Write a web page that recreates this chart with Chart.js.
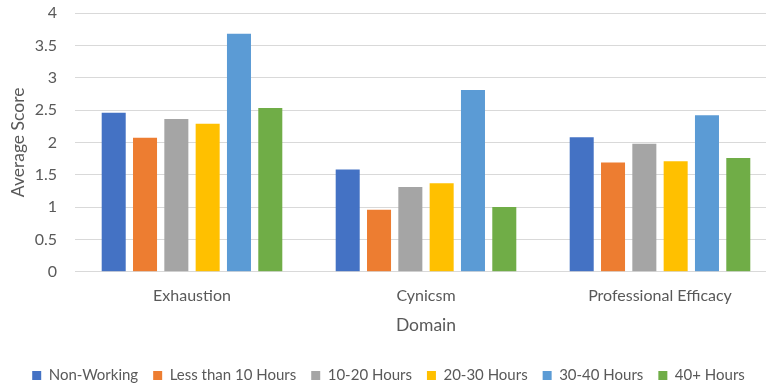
<!DOCTYPE html>
<html>
<head>
<meta charset="utf-8">
<script src="https://cdn.jsdelivr.net/npm/chart.js@4.4.0/dist/chart.umd.min.js"></script>
<style>
  html, body { margin: 0; padding: 0; background: #ffffff; overflow: hidden; }
  #wrap { width: 780px; height: 385px; position: relative; }
</style>
</head>
<body>
<div id="wrap"><canvas id="chart"></canvas></div>
<script>
// Burnout domain scores by weekly working hours
const domains = ['Exhaustion', 'Cynicsm', 'Professional Efficacy'];
const groups = ['Non-Working', 'Less than 10 Hours', '10-20 Hours', '20-30 Hours', '30-40 Hours', '40+ Hours'];

const nonWorking   = [2.46, 1.58, 2.08];
const lessThan10   = [2.07, 0.96, 1.69];
const hours10to20  = [2.36, 1.31, 1.98];
const hours20to30  = [2.29, 1.37, 1.71];
const hours30to40  = [3.68, 2.81, 2.42];
const hours40plus  = [2.53, 1.00, 1.76];

const yTicks = [0, 0.5, 1, 1.5, 2, 2.5, 3, 3.5, 4];

const seriesValues = [nonWorking, lessThan10, hours10to20, hours20to30, hours30to40, hours40plus];
const colors = ['#4472C4', '#ED7D31', '#A5A5A5', '#FFC000', '#5B9BD5', '#70AD47'];

const textColor = '#595959';
const fontFamily = 'Lato, "Open Sans", "Liberation Sans", sans-serif';

const datasets = groups.map((name, i) => ({
  label: name,
  data: seriesValues[i],
  backgroundColor: colors[i],
  borderWidth: 0,
  categoryPercentage: 0.803,
  barPercentage: 0.767
}));

new Chart(document.getElementById('chart'), {
  type: 'bar',
  data: { labels: domains, datasets },
  options: {
    responsive: true,
    maintainAspectRatio: false,
    animation: false,
    layout: { padding: { top: 13, right: 3, bottom: -8, left: 0 } },
    plugins: {
      tooltip: { enabled: false },
      legend: {
        position: 'bottom',
        labels: {
          color: textColor,
          font: { family: fontFamily, size: 15 },
          boxWidth: 9,
          boxHeight: 9,
          padding: 15
        }
      }
    },
    scales: {
      x: {
        grid: { display: false, drawTicks: false },
        border: { display: false },
        ticks: { color: textColor, font: { family: fontFamily, size: 16 }, padding: 14 },
        title: {
          display: true,
          text: 'Domain',
          color: textColor,
          font: { family: fontFamily, size: 17.5 },
          padding: { top: -4, bottom: 17 }
        }
      },
      y: {
        min: 0,
        max: 4,
        afterBuildTicks: (scale) => { scale.ticks = yTicks.map(v => ({ value: v })); },
        afterFit: (scale) => {
          scale.width = 75;
          scale.paddingTop = 0;
          scale.paddingBottom = 0;
        },
        grid: { color: '#d9d9d9', lineWidth: 1, drawTicks: false },
        border: { display: false },
        ticks: {
          color: textColor,
          font: { family: fontFamily, size: 16 },
          padding: 18,
          callback: (v) => String(v)
        },
        title: {
          display: true,
          text: 'Average Score',
          color: textColor,
          font: { family: fontFamily, size: 17.5 },
          padding: { top: 8, bottom: 0 }
        }
      }
    }
  }
});
</script>
</body>
</html>
